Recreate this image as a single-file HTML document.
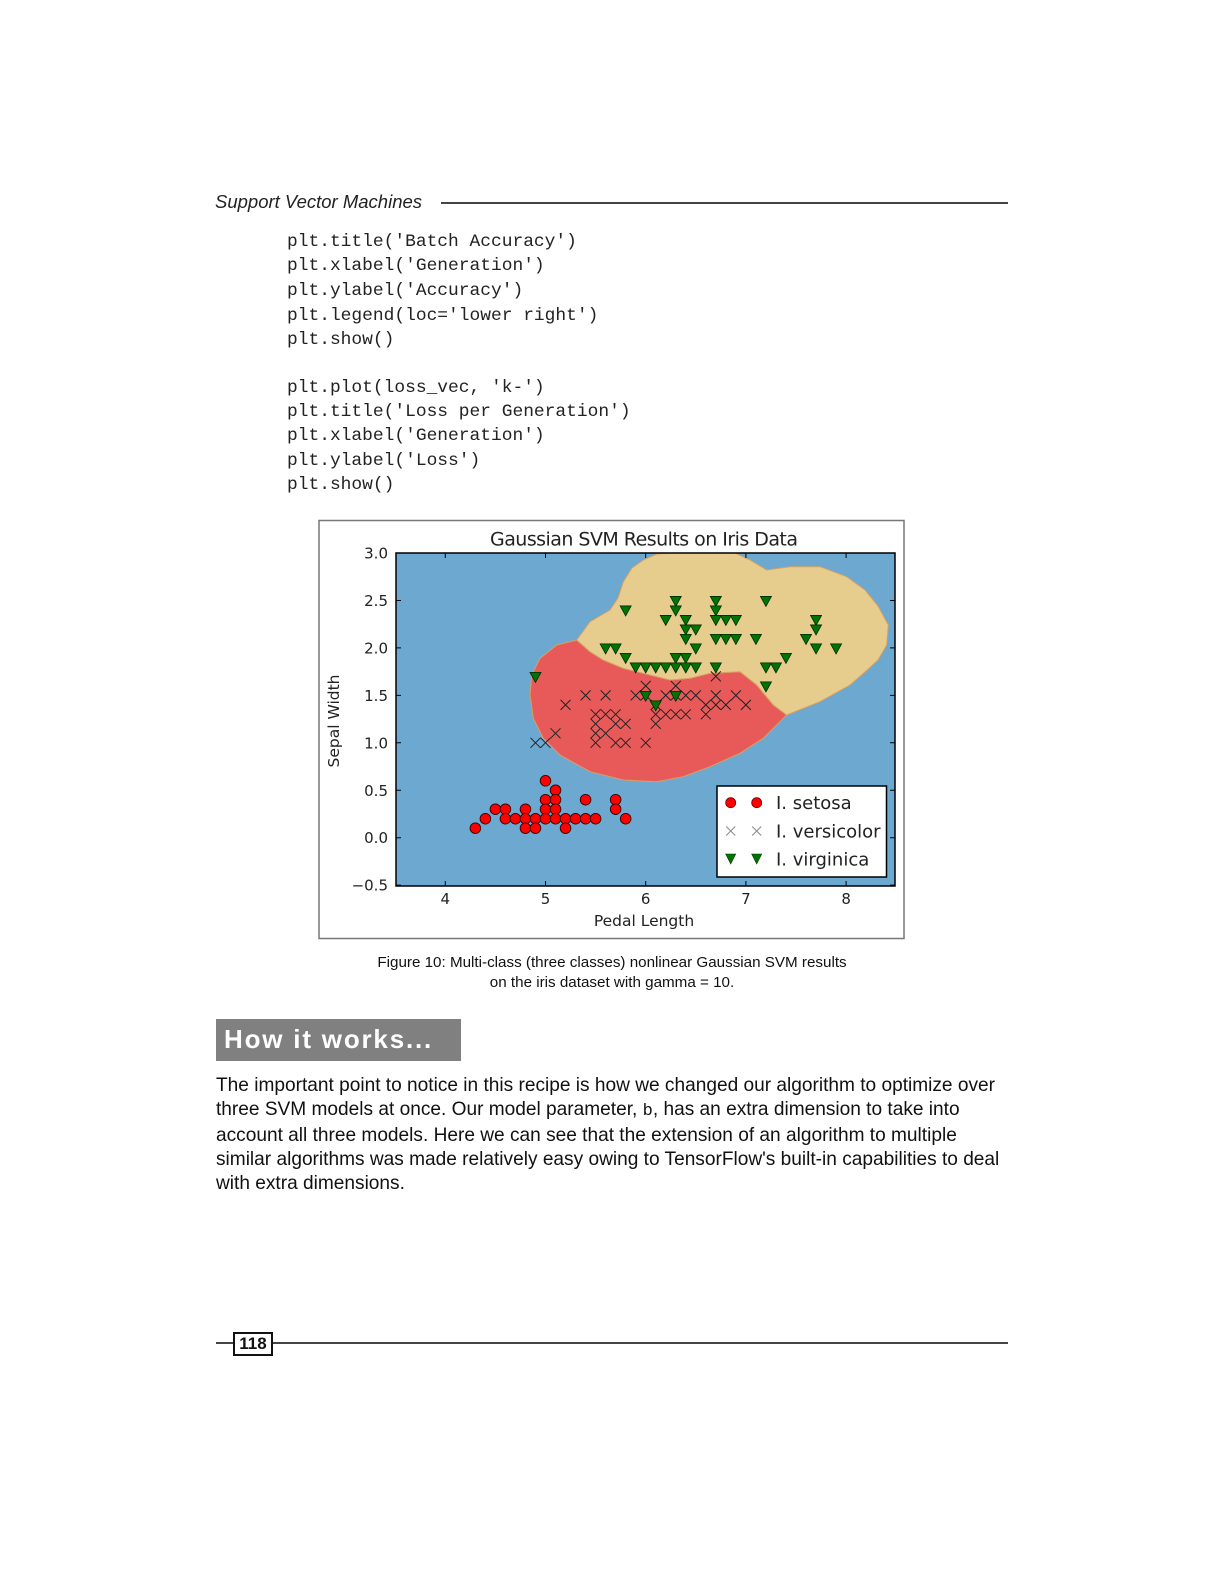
<!DOCTYPE html>
<html><head><meta charset="utf-8"><style>
body{margin:0;background:#fff;}
#page{position:relative;width:1224px;height:1584px;overflow:hidden;background:#fff;font-family:"Liberation Sans",sans-serif;color:#111;}
.abs{position:absolute;white-space:nowrap;}
.code{font-family:"Liberation Mono",monospace;font-size:17.9px;left:287px;line-height:20px;color:#222;}
.para{left:216px;font-size:19.1px;line-height:24px;color:#111;}
</style></head><body>
<div id="page">
<div class="abs" style="left:215px;top:191px;font-size:18.5px;font-style:italic;color:#222;">Support Vector Machines</div>
<div class="abs" style="left:441px;top:202px;width:567px;height:1.5px;background:#444;"></div>

<div class="abs code" style="top:232px">plt.title('Batch Accuracy')</div>
<div class="abs code" style="top:256px">plt.xlabel('Generation')</div>
<div class="abs code" style="top:281px">plt.ylabel('Accuracy')</div>
<div class="abs code" style="top:306px">plt.legend(loc='lower right')</div>
<div class="abs code" style="top:330px">plt.show()</div>
<div class="abs code" style="top:378px">plt.plot(loss_vec, 'k-')</div>
<div class="abs code" style="top:402px">plt.title('Loss per Generation')</div>
<div class="abs code" style="top:426px">plt.xlabel('Generation')</div>
<div class="abs code" style="top:451px">plt.ylabel('Loss')</div>
<div class="abs code" style="top:475px">plt.show()</div>

<svg class="abs" style="left:0;top:0" width="1224" height="1584">
<rect x="319" y="520.5" width="585" height="418" fill="#fff" stroke="#777" stroke-width="1.5"/>
<defs><clipPath id="pc"><rect x="396" y="553" width="499" height="333"/></clipPath></defs>
<g clip-path="url(#pc)">
<rect x="396" y="553" width="499" height="333" fill="#6ca8cf"/>
<path fill="#e85a5a" stroke="#d9a060" stroke-width="1" d="M576.7,640 L556.7,645 L540,658.3 L531.7,675 L530,695 L533.3,718.3 L543.3,738.3 L560,755 L590,771.7 L623.3,780 L656.7,781.7 L683.3,776.7 L710,766.7 L740,753.3 L763.3,738.3 L780,721.7 L786.7,715 L773.3,705 L756.7,685 L740,671.7 L710,673.3 L690,678.3 L670,680 L643.3,673.3 L623.3,668.3 L603.3,660 L590,651.7 Z"/>
<path fill="#e6cd8d" stroke="#d9a060" stroke-width="1" d="M576.7,640 L590,621.7 L610,610 L618,598 L623.3,581.7 L632,568 L643.3,560 L656.7,554 L700,551 L735,553 L750,560 L766.7,570 L790,566.7 L820,566.7 L846.7,576.7 L865,590 L878,606 L888.3,625 L886.7,645 L878,660 L865,672 L850,685 L820,701.7 L786.7,715 L773.3,705 L756.7,685 L740,671.7 L710,673.3 L690,678.3 L670,680 L643.3,673.3 L623.3,668.3 L603.3,660 L590,651.7 Z"/>
<g id="marks"></g>
</g>
<rect x="396" y="553" width="499" height="333" fill="none" stroke="#000" stroke-width="1.5"/>
<g id="axes"></g>
<text x="644" y="545.5" font-family="DejaVu Sans, sans-serif" font-size="19" fill="#222" text-anchor="middle" textLength="308">Gaussian SVM Results on Iris Data</text>
<text x="644" y="926" font-family="DejaVu Sans, sans-serif" font-size="15.5" fill="#222" text-anchor="middle">Pedal Length</text>
<text transform="translate(339,721) rotate(-90)" font-family="DejaVu Sans, sans-serif" font-size="15.5" fill="#222" text-anchor="middle">Sepal Width</text>
<g>
<rect x="717" y="786" width="169.5" height="91" fill="#fff" stroke="#000" stroke-width="1.5"/>
<circle cx="730.7" cy="802.7" r="5" fill="#f00" stroke="#600" stroke-width="0.8"/>
<circle cx="756.7" cy="802.7" r="5" fill="#f00" stroke="#600" stroke-width="0.8"/>
<text x="776" y="809" font-family="DejaVu Sans, sans-serif" font-size="18" fill="#222">I. setosa</text>
<path d="M726.2,826.5 l9,9 M735.2,826.5 l-9,9 M752.2,826.5 l9,9 M761.2,826.5 l-9,9" stroke="#888" stroke-width="1"/>
<text x="776" y="837.5" font-family="DejaVu Sans, sans-serif" font-size="18" fill="#222">I. versicolor</text>
<path d="M725.7,854 h10 l-5,10 z M751.7,854 h10 l-5,10 z" fill="#007400" stroke="#003300" stroke-width="0.6"/>
<text x="776" y="865.5" font-family="DejaVu Sans, sans-serif" font-size="18" fill="#222">I. virginica</text>
</g>
</svg>

<div class="abs" style="left:312px;width:600px;top:953px;text-align:center;font-size:15.2px;line-height:19.5px;color:#111;">Figure 10: Multi-class (three classes) nonlinear Gaussian SVM results<br>on the iris dataset with gamma = 10.</div>

<div class="abs" style="left:216px;top:1019px;width:245px;height:42px;background:#808080;"></div>
<div class="abs" style="left:224px;top:1024px;font-size:26px;font-weight:900;color:#fff;font-family:'Liberation Sans',sans-serif;letter-spacing:1.8px;">How it works...</div>

<div class="abs para" style="top:1074px;">The important point to notice in this recipe is how we changed our algorithm to optimize over<br>three SVM models at once. Our model parameter, <span style="font-family:'Liberation Mono',monospace;font-size:17px">b</span>, has an extra dimension to take into<br>account all three models. Here we can see that the extension of an algorithm to multiple<br>similar algorithms was made relatively easy owing to TensorFlow's built-in capabilities to deal<br>with extra dimensions.</div>

<div class="abs" style="left:216px;top:1342px;width:792px;height:1.5px;background:#444;"></div>
<div class="abs" style="left:233px;top:1332px;width:36px;height:20px;border:2px solid #111;background:#fff;font-weight:bold;font-size:17px;line-height:20px;text-align:center;">118</div>
</div>

<script>
const xTicks=[4,5,6,7,8];
const yTicks=[-0.5,0,0.5,1.0,1.5,2.0,2.5,3.0];
const yTickLabels=["\u22120.5","0.0","0.5","1.0","1.5","2.0","2.5","3.0"];
const setosaX=[4.3,4.4,4.5,4.6,4.6,4.7,4.8,4.8,4.8,4.9,4.9,5.0,5.0,5.0,5.0,5.1,5.1,5.1,5.1,5.2,5.2,5.3,5.4,5.4,5.5,5.7,5.7,5.8];
const setosaY=[0.1,0.2,0.3,0.3,0.2,0.2,0.3,0.2,0.1,0.2,0.1,0.6,0.4,0.3,0.2,0.5,0.4,0.3,0.2,0.2,0.1,0.2,0.4,0.2,0.2,0.4,0.3,0.2];
const versiX=[6.0,6.3,6.7,5.4,5.6,5.9,6.0,6.2,6.3,6.4,6.5,6.7,6.9,5.2,6.1,6.6,6.7,6.8,7.0,5.5,5.6,5.7,6.1,6.2,6.3,6.4,6.6,5.5,5.7,5.8,6.1,5.1,5.5,5.6,4.9,5.0,5.5,5.7,5.8,6.0];
const versiY=[1.6,1.6,1.7,1.5,1.5,1.5,1.5,1.5,1.5,1.5,1.5,1.5,1.5,1.4,1.4,1.4,1.4,1.4,1.4,1.3,1.3,1.3,1.3,1.3,1.3,1.3,1.3,1.2,1.2,1.2,1.2,1.1,1.1,1.1,1.0,1.0,1.0,1.0,1.0,1.0];
const virgX=[6.3,6.7,7.2,5.8,6.3,6.7,6.2,6.4,6.7,6.8,6.9,7.7,6.4,6.5,7.7,6.4,6.7,6.8,6.9,7.1,7.6,5.6,5.7,6.5,7.7,7.9,5.8,6.3,6.4,7.4,5.9,6.0,6.1,6.2,6.3,6.4,6.5,6.7,7.2,7.3,4.9,7.2,6.0,6.3,6.1];
const virgY=[2.5,2.5,2.5,2.4,2.4,2.4,2.3,2.3,2.3,2.3,2.3,2.3,2.2,2.2,2.2,2.1,2.1,2.1,2.1,2.1,2.1,2.0,2.0,2.0,2.0,2.0,1.9,1.9,1.9,1.9,1.8,1.8,1.8,1.8,1.8,1.8,1.8,1.8,1.8,1.8,1.7,1.6,1.5,1.5,1.4];

const NS="http://www.w3.org/2000/svg";
function X(v){return 445.3+(v-4)*100.2;}
function Y(v){return 837.7-v*94.9;}
function mk(tag,attrs,parent){const e=document.createElementNS(NS,tag);for(const k in attrs)e.setAttribute(k,attrs[k]);parent.appendChild(e);return e;}
const marks=document.getElementById('marks');
const axes=document.getElementById('axes');

versiX.forEach((v,i)=>{
  const x=X(v),y=Y(versiY[i]);
  const p=mk('path',{d:`M${x-5},${y-5} L${x+5},${y+5} M${x+5},${y-5} L${x-5},${y+5}`,stroke:'#222',fill:'none','stroke-width':1},marks);
  
  
});
virgX.forEach((v,i)=>{
  const x=X(v),y=Y(virgY[i]);
  const p=mk('path',{d:`M${x-5.5},${y-4} L${x+5.5},${y-4} L${x},${y+6} Z`,fill:'#007400',stroke:'#002800','stroke-width':0.8},marks);
  
  
});
setosaX.forEach((v,i)=>{
  const c=mk('circle',{cx:X(v),cy:Y(setosaY[i]),r:5.3,fill:'#f00',stroke:'#300','stroke-width':0.9},marks);
  
  
});
xTicks.forEach(t=>{
  const x=X(t);
  const a=mk('path',{d:`M${x},886 v-5 M${x},553 v5`,stroke:'#000','stroke-width':1},axes);
  
  
  const l=mk('text',{x:x,y:904,'font-family':'DejaVu Sans, sans-serif','font-size':15,fill:'#222','text-anchor':'middle'},axes);
  l.textContent=String(t);
  
  
});
yTicks.forEach((t,i)=>{
  const y=Y(t);
  const a=mk('path',{d:`M396,${y} h5 M895,${y} h-5`,stroke:'#000','stroke-width':1},axes);
  
  
  const l=mk('text',{x:388,y:y+5.5,'font-family':'DejaVu Sans, sans-serif','font-size':15,fill:'#222','text-anchor':'end'},axes);
  l.textContent=yTickLabels[i];
  
  
});
</script>
</body></html>
